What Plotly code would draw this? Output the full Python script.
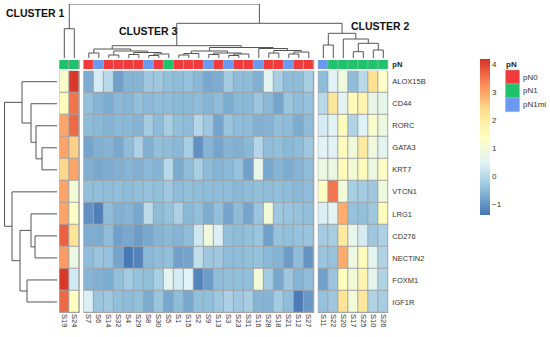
import plotly.graph_objects as go

# ---------------- data ----------------
genes = ["ALOX15B", "CD44", "RORC", "GATA3", "KRT7", "VTCN1", "LRG1",
         "CD276", "NECTIN2", "FOXM1", "IGF1R"]

cluster1 = ["S19", "S24"]
cluster3 = ["S7", "S6", "S14", "S32", "S4", "S29", "S8", "S30", "S5", "S1", "S15",
            "S2", "S9", "S13", "S3", "S23", "S31", "S16", "S28", "S18", "S21", "S12", "S27"]
cluster2 = ["S11", "S22", "S20", "S17", "S25", "S10", "S26"]

pN_cluster1 = ["pN1", "pN1"]
pN_cluster3 = ["pN0", "pN1mi", "pN0", "pN0", "pN0", "pN0", "pN1mi", "pN0", "pN1", "pN0", "pN0",
               "pN0", "pN1mi", "pN0", "pN1mi", "pN0", "pN0", "pN1mi", "pN0", "pN0", "pN1mi", "pN0", "pN0"]
pN_cluster2 = ["pN1mi", "pN1", "pN1", "pN1", "pN1", "pN1", "pN1"]

#            S19  S24 | S7    S6    S14   S32   S4    S29   S8    S30   S5    S1    S15   S2    S9    S13   S3    S23   S31   S16   S28   S18   S21   S12   S27 | S11  S22  S20  S17  S25  S10  S26
ALOX15B = [1.2, 4.1, -0.7, 0.35, 0.0, -0.85, -0.6, -0.6, -0.3, -0.3, -0.45, -0.5, -0.4, -0.55, -0.75, -0.7, -0.25, -0.5, -0.5, -0.65, 0.55, -0.2, -0.5, -0.5, -0.2, -0.5, 0.5, 0.9, -0.5, 0.0, 2.3, 1.3]
CD44 = [1.5, 3.5, -0.45, -0.6, -0.7, -0.55, -0.6, -0.45, -0.55, -0.5, -0.5, -0.55, -0.55, -0.5, -0.6, -0.5, -0.7, -0.55, -0.55, -0.35, -0.55, -0.8, -0.35, -0.5, -0.4, 0.0, 2.1, 0.55, 1.5, 1.7, 0.7, 0.7]
RORC = [3.0, 3.6, -0.5, -0.55, -0.6, -0.55, -0.55, -0.6, -0.25, -0.5, -0.2, -0.45, -0.5, -0.05, -0.3, -0.8, -0.35, -0.5, -0.5, -0.65, -0.6, -0.45, -0.5, -0.7, -0.5, 0.35, 0.5, 1.5, -0.1, 0.45, 1.2, 0.85]
GATA3 = [3.0, 2.5, -0.8, -0.65, -0.6, -0.75, -0.5, -0.15, -0.65, -0.45, -0.5, -0.55, -0.2, -1.05, -0.6, -0.8, -0.6, -0.65, -0.55, -0.05, -0.5, -0.45, -0.55, -0.5, -0.3, 0.5, 0.5, 1.5, 0.95, 2.0, 0.9, 0.6]
KRT7 = [2.4, 3.0, -0.65, -0.75, -0.7, -0.65, -0.6, -0.65, -0.55, -0.6, 0.0, -0.7, -0.5, -0.2, -0.5, -0.6, -0.55, -0.4, -0.85, 0.7, -0.75, -0.6, -0.7, -0.6, -0.5, 0.8, 0.8, 1.5, 1.05, 1.5, 0.85, 1.3]
VTCN1 = [3.0, 1.0, -0.45, -0.45, -0.5, -0.45, -0.5, -0.45, -0.4, -0.45, -0.3, -0.5, -0.45, -0.5, -0.5, -0.5, -0.5, -0.55, -0.5, -0.45, -0.5, -0.45, -0.5, -0.55, -0.5, 1.3, 3.5, 1.0, -0.2, -0.25, -0.3, 0.9]
LRG1 = [3.0, 1.3, -1.05, -1.25, -0.5, -0.65, -0.6, -0.75, 0.05, -0.5, -0.4, -0.15, -0.55, -0.45, -0.7, -0.45, -0.8, -0.5, -0.8, -0.35, 1.0, -0.3, -0.35, -0.4, -0.45, 0.4, 0.55, 2.9, -0.4, -0.45, -0.3, 1.5]
CD276 = [3.7, 2.2, -0.7, -0.7, -0.5, -0.85, -0.75, -0.9, -0.75, -0.6, -0.55, -0.6, -0.5, 0.25, 0.9, 0.4, -0.45, -0.5, -0.45, -0.35, -0.85, -0.4, -0.45, -0.4, -0.35, -0.25, -0.2, 2.0, 0.7, 0.35, -0.3, -0.15]
NECTIN2 = [3.1, 0.8, -0.5, -0.35, -0.4, -0.8, -1.35, -1.2, -0.55, -0.5, -0.45, -0.85, -0.8, 0.1, -0.3, -0.3, -0.5, -0.5, -0.45, -0.4, -0.55, -0.6, -0.9, -0.5, -1.0, -0.35, -0.4, 2.9, 0.85, 1.5, 0.6, -0.1]
FOXM1 = [4.1, 0.3, -0.6, -0.65, -0.7, -0.45, -0.25, -0.4, -0.45, -0.2, 0.6, 0.35, 0.5, -1.2, -0.9, -0.5, -0.45, -0.45, -0.45, 1.0, -0.25, -0.75, -0.3, -0.6, -0.5, -0.85, -0.35, 1.5, 1.0, 1.7, 0.6, -0.1]
IGF1R = [3.6, 1.4, 0.4, -0.35, -0.3, -0.45, -0.5, -0.45, -0.7, -0.35, -0.75, -0.5, -0.75, -0.45, -0.45, -0.3, -0.15, -0.3, -0.2, -0.6, -0.6, -0.25, -0.5, -1.3, -0.95, -0.4, -0.3, 2.2, 1.0, 2.1, -0.1, -0.2]

values = [ALOX15B, CD44, RORC, GATA3, KRT7, VTCN1, LRG1, CD276, NECTIN2, FOXM1, IGF1R]

# row dendrogram (merge heights)
row_tree = (("ALOX15B", ("CD44", ("RORC", ("GATA3", "KRT7", 15), 21), 26), 35),
            ("VTCN1", (("LRG1", ("CD276", "NECTIN2", 22), 26), ("FOXM1", "IGF1R", 30), 37), 45),
            52.5)

# column dendrogram (merge heights)
c1_tree = ("S19", "S24", 29.3)
L_tree = (("S7", "S6", 5),
          (("S14", "S32", 3), (("S4", "S29", 3.5), (("S8", "S30", 2.5), "S5", 4), 5.5), 7), 9)
R_tree = (((("S1", "S15", 3), "S2", 4.5), (("S9", "S13", 3.5), (("S3", "S23", 2.5), "S31", 4), 5), 7),
          ("S16", (("S28", "S18", 5), (("S21", "S12", 4), "S27", 6), 7.5), 9.5), 10.5)
c3_tree = (L_tree, R_tree, 12.3)
c2_tree = (("S11", "S22", 13), ("S20", (("S17", "S25", 6.3), ("S10", "S26", 8), 14.7), 19), 24.7)
col_tree = (c1_tree, (c3_tree, c2_tree, 34.7), 54)

pn_levels = ["pN0", "pN1", "pN1mi"]
pn_colors = ["#F2393B", "#1DC46B", "#6A99F2"]
heat_colors = ["#4575B4", "#91BFDB", "#E0F3F8", "#FFFFBF", "#FEE090", "#FC8D59", "#D73027"]
zmin, zmax = -1.39, 4.18
cbar_ticks = [-1, 0, 1, 2, 3, 4]

# ---------------- layout helpers ----------------
W, H = 550, 337
FONT = "Liberation Sans, Arial, sans-serif"
GAP = 0.45
BORDER = "#A3A3A3"
DCOL = "#555555"


def px(p):
    return p / W


def py(p):
    return 1 - p / H


blocks = [(cluster1, pN_cluster1), (cluster3, pN_cluster3), (cluster2, pN_cluster2)]
samples = cluster1 + cluster3 + cluster2
xpos = {}
start = 0.0
block_x = []
for names, _ in blocks:
    xs = [start + i for i in range(len(names))]
    for n, xv in zip(names, xs):
        xpos[n] = xv
    block_x.append(xs)
    start = xs[-1] + 1 + GAP

ypos = {g: i for i, g in enumerate(genes)}

fig = go.Figure()
shapes = []

offset = 0
for (names, pns), xs in zip(blocks, block_x):
    idx = list(range(offset, offset + len(names)))
    offset += len(names)
    z = [[values[r][i] for i in idx] for r in range(len(genes))]
    fig.add_trace(go.Heatmap(x=xs, y=list(range(len(genes))), z=z, coloraxis="coloraxis",
                             xgap=1, ygap=1, hoverinfo="skip"))
    codes = [[pn_levels.index(p) for p in pns]]
    n = len(pn_levels)
    cs = []
    for k, c in enumerate(pn_colors):
        cs.append([k / n, c])
        cs.append([(k + 1) / n, c])
    fig.add_trace(go.Heatmap(x=xs, y=[0], z=codes, colorscale=cs, zmin=-0.5, zmax=n - 0.5,
                             showscale=False, xaxis="x", yaxis="y2", xgap=1, ygap=0,
                             hoverinfo="skip"))
    shapes.append(dict(type="rect", xref="x", yref="y", layer="below",
                       x0=xs[0] - 0.55, x1=xs[-1] + 0.55, y0=-0.53, y1=len(genes) - 0.47,
                       fillcolor=BORDER, line=dict(width=0)))
    shapes.append(dict(type="rect", xref="x", yref="y2", layer="below",
                       x0=xs[0] - 0.55, x1=xs[-1] + 0.55, y0=-0.56, y1=0.56,
                       fillcolor=BORDER, line=dict(width=0)))


def dendro_segments(node, pos):
    """return (center, height, xs, ys) lines along leaf axis / height axis"""
    if isinstance(node, str):
        return pos[node], 0.0, [], []
    a, b, h = node
    ca, ha, la, lha = dendro_segments(a, pos)
    cb, hb, lb, lhb = dendro_segments(b, pos)
    xs = la + lb + [ca, ca, cb, cb, None]
    ys = lha + lhb + [ha, h, h, hb, None]
    return (ca + cb) / 2, h, xs, ys


_, _, tx, ty = dendro_segments(col_tree, xpos)
fig.add_trace(go.Scatter(x=tx, y=ty, mode="lines", xaxis="x", yaxis="y3",
                         line=dict(color=DCOL, width=1), hoverinfo="skip",
                         showlegend=False, cliponaxis=False))
_, _, ry, rx = dendro_segments(row_tree, ypos)
fig.add_trace(go.Scatter(x=rx, y=ry, mode="lines", xaxis="x2", yaxis="y",
                         line=dict(color=DCOL, width=1), hoverinfo="skip",
                         showlegend=False, cliponaxis=False))

all_x = [xpos[s] for s in samples]

# legend for pN annotation
annotations = [dict(text="<b>pN</b>", x=px(504), y=py(64.5), xref="paper", yref="paper",
                    xanchor="left", yanchor="middle", showarrow=False,
                    font=dict(family=FONT, size=8, color="#222"))]
for k, (lev, col) in enumerate(zip(pn_levels, pn_colors)):
    top = 70 + 13.9 * k
    shapes.append(dict(type="rect", xref="paper", yref="paper",
                       x0=px(505.5), x1=px(519.5), y0=py(top + 13.9), y1=py(top),
                       fillcolor=col, line=dict(color="#B0B0B0", width=0.5)))
    annotations.append(dict(text=lev, x=px(521), y=py(top + 7), xref="paper", yref="paper",
                            xanchor="left", yanchor="middle", showarrow=False,
                            font=dict(family=FONT, size=8, color="#333")))

for txt, x0, yc in [("CLUSTER 1", 4, 13.5), ("CLUSTER 3", 116.5, 31.5), ("CLUSTER 2", 349, 25.5)]:
    annotations.append(dict(text="<b>%s</b>" % txt, x=px(x0), y=py(yc), xref="paper", yref="paper",
                            xanchor="left", yanchor="middle", showarrow=False,
                            font=dict(family=FONT, size=10.5, color="#111")))

heat_scale = [[i / (len(heat_colors) - 1), c] for i, c in enumerate(heat_colors)]
x_lo = block_x[0][0] - 0.5
x_hi = block_x[-1][-1] + 0.5

fig.update_layout(
    width=W, height=H,
    margin=dict(l=0, r=0, t=0, b=0),
    paper_bgcolor="white", plot_bgcolor="white",
    showlegend=False,
    font=dict(family=FONT, size=8, color="#333"),
    shapes=shapes, annotations=annotations,
    coloraxis=dict(
        cmin=zmin, cmax=zmax, colorscale=heat_scale,
        colorbar=dict(x=px(479.5), xanchor="left", xpad=0, ypad=0,
                      y=py(137), yanchor="middle", len=156 / H, lenmode="fraction",
                      thickness=9.5, thicknessmode="pixels", outlinewidth=0,
                      tickvals=cbar_ticks, ticks="", ticklen=2,
                      tickfont=dict(family=FONT, size=8, color="#333"))),
    xaxis=dict(domain=[px(59.3), px(388.3)], range=[x_lo, x_hi], anchor="y",
               tickmode="array", tickvals=all_x, ticktext=samples, tickangle=90,
               tickfont=dict(family=FONT, size=7.5, color="#333"),
               showgrid=False, zeroline=False, showline=False, ticks=""),
    yaxis=dict(domain=[py(313), py(70.7)], range=[len(genes) - 0.5, -0.5], anchor="x",
               side="right", tickmode="array", tickvals=list(range(len(genes))), ticktext=genes,
               tickfont=dict(family=FONT, size=7.5, color="#333"), ticklabelstandoff=3,
               showgrid=False, zeroline=False, showline=False, ticks=""),
    yaxis2=dict(domain=[py(69), py(60)], range=[-0.5, 0.5], anchor="x", side="right",
                tickmode="array", tickvals=[0], ticktext=["<b>pN</b>"],
                tickfont=dict(family=FONT, size=7.5, color="#222"), ticklabelstandoff=3,
                showgrid=False, zeroline=False, showline=False, ticks=""),
    yaxis3=dict(domain=[py(58), py(4)], range=[0, 54], anchor="x", visible=False),
    xaxis2=dict(domain=[0, px(57)], range=[57, 0], anchor="y", visible=False),
)

fig.write_html("out.html", config={"displayModeBar": False, "staticPlot": True},
               post_script="document.body.style.margin='0';document.body.style.overflow='hidden';")
